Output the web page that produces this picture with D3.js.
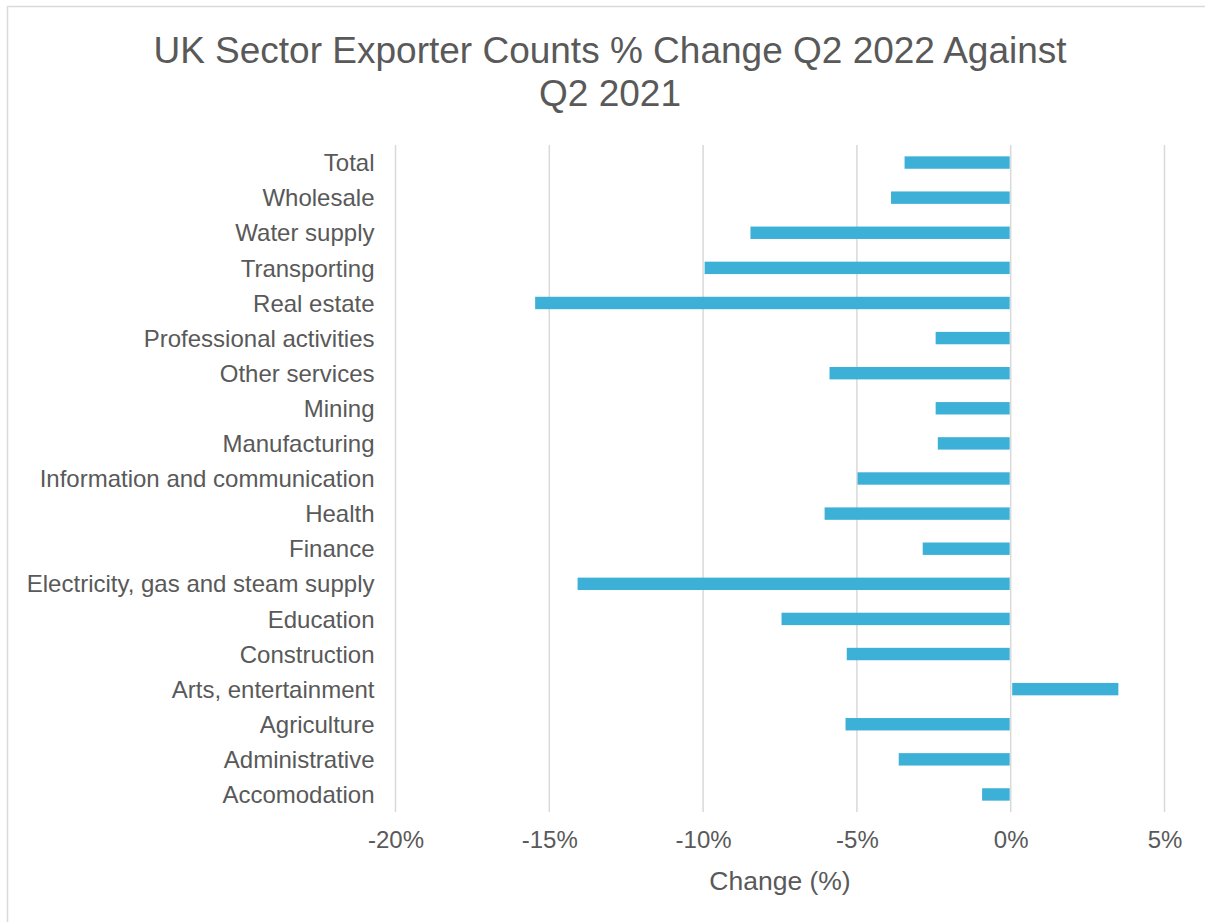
<!DOCTYPE html>
<html>
<head>
<meta charset="utf-8">
<script src="https://cdn.jsdelivr.net/npm/d3@7"></script>
<style>
  html, body { margin: 0; padding: 0; background: #fff; }
  svg { display: block; }
  text { font-family: "Liberation Sans", Arial, sans-serif; fill: #595959; }
</style>
</head>
<body>
<svg id="chart" width="1205" height="922"></svg>
<script>
// Sectors, listed top to bottom
const sectors = [
  "Total", "Wholesale", "Water supply", "Transporting", "Real estate",
  "Professional activities", "Other services", "Mining", "Manufacturing",
  "Information and communication", "Health", "Finance",
  "Electricity, gas and steam supply", "Education", "Construction",
  "Arts, entertainment", "Agriculture", "Administrative", "Accomodation"
];
// Percentage change in exporter counts, Q2 2022 vs Q2 2021
const changes = [
  -3.45, -3.89, -8.46, -9.95, -15.46,
  -2.44, -5.89, -2.44, -2.37,
  -4.98, -6.05, -2.86,
  -14.08, -7.45, -5.33,
  3.50, -5.37, -3.64, -0.93
];
const tickValues = [-20, -15, -10, -5, 0, 5];
const titleLines = ["UK Sector Exporter Counts % Change Q2 2022 Against", "Q2 2021"];
const axisTitle = "Change (%)";

const svg = d3.select("#chart");

// Outer chart frame
svg.append("rect")
  .attr("x", 7.5).attr("y", 6.5)
  .attr("width", 1230).attr("height", 940)
  .attr("fill", "none").attr("stroke", "#d9d9d9").attr("stroke-width", 1.5);

const plot = { left: 395.5, right: 1164.5, top: 145, bottom: 812 };

const x = d3.scaleLinear().domain([-20, 5]).range([plot.left, plot.right]);
const y = d3.scaleBand().domain(sectors).range([plot.top, plot.bottom]).paddingInner(0.65).paddingOuter(0.325);

// Title
svg.append("text")
  .attr("x", 610).attr("y", 63)
  .attr("text-anchor", "middle")
  .style("font-size", "37px")
  .text(titleLines[0]);
svg.append("text")
  .attr("x", 610).attr("y", 106)
  .attr("text-anchor", "middle")
  .style("font-size", "37px")
  .text(titleLines[1]);

// Vertical gridlines
svg.append("g")
  .selectAll("line")
  .data(tickValues)
  .join("line")
  .attr("x1", d => x(d)).attr("x2", d => x(d))
  .attr("y1", plot.top).attr("y2", plot.bottom)
  .attr("stroke", "#d9d9d9").attr("stroke-width", 1.5);

// Bars
svg.append("g")
  .selectAll("rect")
  .data(sectors.map((s, i) => ({ s, v: changes[i] })))
  .join("rect")
  .attr("x", d => Math.min(x(0), x(d.v)) + (d.v > 0 ? 1.5 : 0))
  .attr("width", d => Math.abs(x(d.v) - x(0)) - (d.v > 0 ? 1.5 : 1))
  .attr("y", d => y(d.s) + y.bandwidth() / 2 - 6.2)
  .attr("height", 12.4)
  .attr("fill", "#3cb0d7");

// Category labels
const yAxis = d3.axisLeft(y).tickSize(0).tickPadding(0);
const gy = svg.append("g")
  .attr("transform", `translate(${plot.left - 21},0)`)
  .call(yAxis);
gy.select(".domain").remove();
gy.selectAll("text")
  .style("font-size", "24px")
  .attr("fill", "#595959")
  .attr("dy", "0.36em");

// X-axis tick labels
const xAxis = d3.axisBottom(x).tickValues(tickValues).tickSize(0).tickPadding(0)
  .tickFormat(d => d + "%");
const gx = svg.append("g")
  .attr("transform", `translate(0,${plot.bottom + 19})`)
  .call(xAxis);
gx.select(".domain").remove();
gx.selectAll("text")
  .style("font-size", "24px")
  .attr("fill", "#595959")
  .attr("dy", "0.71em");

// Axis title
svg.append("text")
  .attr("x", x(-7.5)).attr("y", 890)
  .attr("text-anchor", "middle")
  .style("font-size", "26.5px")
  .text(axisTitle);
</script>
</body>
</html>
